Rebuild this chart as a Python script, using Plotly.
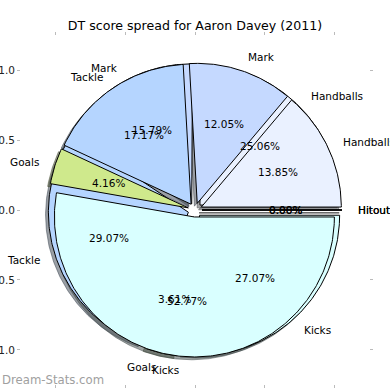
import numpy as np
import plotly.graph_objects as go

# ---- data (percent of DT score) ----
categories = ["Handballs", "Mark", "Tackle", "Goals", "Kicks", "Hitouts"]
pie_lower = [25.06, 15.79, 29.07, 3.61, 27.07, 0.00]   # drawn first (underneath)
pie_upper = [13.85, 12.05, 17.17, 4.16, 52.77, 0.00]   # drawn on top
colors = ["#eaf1ff", "#c5d9ff", "#b5d5ff", "#cfe98c", "#d9ffff", "#ffffff"]
title = "DT score spread for Aaron Davey (2011)"
watermark = "Dream-Stats.com"
tick_vals = [-1.0, -0.5, 0.0, 0.5, 1.0]

EXPLODE = 0.05
R = 1.0
SH = (-0.02, -0.02)
FONT = "DejaVu Sans"


def build(values):
    total = float(sum(values))
    out = []
    a = 0.0
    for v in values:
        span = 360.0 * v / total
        t1, t2 = a, a + span
        mid = np.deg2rad((t1 + t2) / 2)
        cx, cy = EXPLODE * R * np.cos(mid), EXPLODE * R * np.sin(mid)
        n = max(2, int(span * 1.5) + 2)
        th = np.deg2rad(np.linspace(t1, t2, n))
        xs = np.concatenate([[cx], cx + R * np.cos(th), [cx]])
        ys = np.concatenate([[cy], cy + R * np.sin(th), [cy]])
        out.append(dict(x=xs, y=ys, mid=mid, cx=cx, cy=cy, v=v))
        a = t2
    return out


def dark(hexc, f=0.3):
    h = hexc.lstrip("#")
    r, g, b = (int(h[i:i + 2], 16) for i in (0, 2, 4))
    return f"rgba({int(r*f)},{int(g*f)},{int(b*f)},0.5)"


lower = build(pie_lower)
upper = build(pie_upper)

fig = go.Figure()

# shadows (all below wedges)
for pie in (lower, upper):
    for w, c in zip(pie, colors):
        fig.add_trace(go.Scatter(
            x=w["x"] + SH[0], y=w["y"] + SH[1], mode="lines", fill="toself",
            fillcolor=dark(c), line=dict(color=dark(c), width=1),
            hoverinfo="skip", showlegend=False))

# wedges
for pie in (lower, upper):
    for w, c, name in zip(pie, colors, categories):
        fig.add_trace(go.Scatter(
            x=w["x"], y=w["y"], mode="lines", fill="toself",
            fillcolor=c, line=dict(color="black", width=1),
            name=name, hoverinfo="name", showlegend=False))

# labels & percentages
annotations = []
for pie in (lower, upper):
    for w, name in zip(pie, categories):
        lx = w["cx"] + 1.1 * R * np.cos(w["mid"])
        ly = w["cy"] + 1.1 * R * np.sin(w["mid"])
        annotations.append(dict(
            x=lx, y=ly, xref="x", yref="y", text=name, showarrow=False,
            xanchor="left" if lx > 0 else "right", yanchor="middle",
            font=dict(family=FONT, size=10.5, color="black")))
        px = w["cx"] + 0.6 * R * np.cos(w["mid"])
        py = w["cy"] + 0.6 * R * np.sin(w["mid"])
        annotations.append(dict(
            x=px, y=py, xref="x", yref="y", text=f"{w['v']:.2f}%",
            showarrow=False, xanchor="center", yanchor="middle",
            font=dict(family=FONT, size=10.5, color="black")))

annotations.append(dict(
    x=-21 / 348, y=(384 - 380) / 348, xref="paper", yref="paper",
    text=watermark, showarrow=False, xanchor="left", yanchor="middle",
    font=dict(family=FONT, size=11.7, color="#a0a0a0")))

axis_common = dict(
    tickvals=tick_vals, tickformat=".1f", showgrid=False, zeroline=False,
    showline=False, ticks="outside", ticklen=3, tickcolor="#bbbbbb",
    tickwidth=1, mirror="ticks", automargin=False,
    tickfont=dict(family=FONT, size=10.5, color="#222222"),
    range=[-1.243, 1.243], fixedrange=True)

fig.update_layout(
    width=390, height=390,
    margin=dict(l=21, r=21, t=36, b=6, autoexpand=False),
    paper_bgcolor="white", plot_bgcolor="white",
    xaxis=dict(**axis_common),
    yaxis=dict(**axis_common),
    title=dict(text=title, x=0.5, xref="paper", xanchor="center",
               y=1 - 26 / 390, yref="container", yanchor="middle",
               font=dict(family=FONT, size=12.6, color="black")),
    annotations=annotations,
    showlegend=False,
)

fig.write_html("out.html")
